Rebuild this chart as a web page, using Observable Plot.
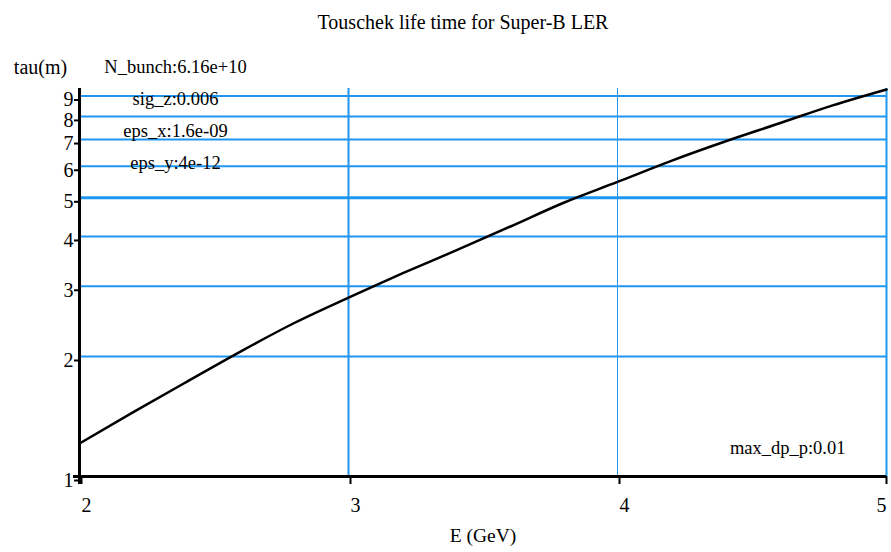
<!DOCTYPE html>
<html><head><meta charset="utf-8">
<script src="https://cdn.jsdelivr.net/npm/d3@7"></script>
<script src="https://cdn.jsdelivr.net/npm/@observablehq/plot@0.6"></script>
<style>body{margin:0;background:#fff;} svg{font-family:"Liberation Serif",serif;}</style>
</head><body><div id="chart"></div>
<script>
const energy = [2.0, 2.2, 2.4, 2.6, 2.8, 3.0, 3.2, 3.4, 3.6, 3.8, 4.0, 4.2, 4.4, 4.6, 4.8, 5.0];
const tau    = [1.21, 1.45, 1.73, 2.06, 2.43, 2.81, 3.23, 3.69, 4.23, 4.86, 5.48, 6.19, 6.92, 7.68, 8.53, 9.35];
const xTicks = [2, 3, 4, 5];
const yTicks = [1, 2, 3, 4, 5, 6, 7, 8, 9];
const yGrid = [2, 3, 4, 6, 7, 8, 9];
const yGridBold = [5];
const title = "Touschek life time for Super-B LER";
const xLabel = "E (GeV)";
const yLabel = "tau(m)";
const paramLines = ["N_bunch:6.16e+10", "sig_z:0.006", "eps_x:1.6e-09", "eps_y:4e-12"];
const cornerNote = "max_dp_p:0.01";

const data = energy.map((e, i) => ({E: e, tau: tau[i]}));
const blue = "#1e96f0";
const fs = 18.5;
const tickFs = 20;

const chart = Plot.plot({
  width: 891, height: 552,
  marginLeft: 79, marginRight: 5, marginTop: 88, marginBottom: 76,
  style: {fontFamily: "Liberation Serif, serif", fontSize: fs + "px", color: "black", background: "white"},
  x: {domain: [2, 5]},
  y: {type: "log", domain: [1, 9.4]},
  marks: [
    Plot.ruleY(yGrid, {stroke: blue, strokeWidth: 2}),
    Plot.ruleY(yGridBold, {stroke: blue, strokeWidth: 3}),
    Plot.ruleX([3, 5], {stroke: blue, strokeWidth: 2}),
    Plot.ruleX([4], {stroke: blue, strokeWidth: 1}),
    Plot.axisY({ticks: yTicks, tickFormat: d => String(d), tickSize: 5, tickPadding: 1, dy: 4, strokeWidth: 2, label: null, fontSize: tickFs}),
    Plot.axisX({ticks: xTicks.slice(0, -1), tickFormat: d => String(d), tickSize: 8, tickPadding: 13, textAnchor: "start", dx: 2, strokeWidth: 2, label: null, fontSize: tickFs}),
    Plot.axisX({ticks: xTicks.slice(-1), tickFormat: d => String(d), tickSize: 8, tickPadding: 13, textAnchor: "end", dx: 0, strokeWidth: 2, label: null, fontSize: tickFs}),
    Plot.ruleX([2], {stroke: "black", strokeWidth: 3, insetBottom: -8}),
    Plot.ruleY([1], {stroke: "black", strokeWidth: 3, insetLeft: -6}),
    Plot.line(data, {x: "E", y: "tau", stroke: "black", strokeWidth: 2.5, curve: "monotone-x"}),
    Plot.text([title], {text: d => d, frameAnchor: "top", lineAnchor: "middle", dy: -66, dx: -20, fontSize: 20}),
    Plot.text([yLabel], {text: d => d, frameAnchor: "top-left", lineAnchor: "middle", textAnchor: "middle", dx: -39, dy: -21, fontSize: 20}),
    Plot.text([xLabel], {text: d => d, frameAnchor: "bottom", lineAnchor: "middle", dy: 59, dx: 0, fontSize: 19.5}),
    ...paramLines.map((t, i) => Plot.text([t], {text: d => d, frameAnchor: "top-left", lineAnchor: "middle", textAnchor: "middle", dx: 96, dy: -21 + i * 32, fontSize: fs})),
    Plot.text([cornerNote], {text: d => d, frameAnchor: "bottom-right", lineAnchor: "middle", textAnchor: "end", dx: -41, dy: -28, fontSize: fs})
  ]
});
document.getElementById("chart").appendChild(chart);
</script></body></html>
